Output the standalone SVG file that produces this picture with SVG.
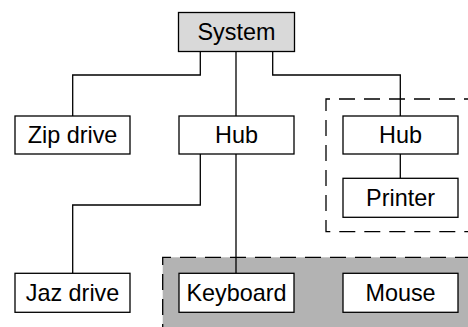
<svg xmlns="http://www.w3.org/2000/svg" width="468" height="327" viewBox="0 0 468 327">
<style>
.node rect{fill:#fff;stroke:#000;stroke-width:1.3}
.node text{font-family:"Liberation Sans",Arial,sans-serif;font-size:23.4px;text-anchor:middle;fill:#000}
.grp{stroke:#000;stroke-width:1.3;stroke-dasharray:16 9}
#connectors path{fill:none;stroke:#000;stroke-width:1.3}
</style>
<rect width="468" height="327" fill="#fff"/>
<g id="group-usb">
<rect x="162.7" y="257.3" width="320" height="90" fill="#b3b3b3" stroke="none"/>
<path class="grp" d="M162.7,340 V257.3 H480" fill="none"/>
</g>
<g id="group-hub2">
<path class="grp" d="M480,99 H326 V231.7 H480" fill="none"/>
</g>
<g id="connectors">
<path d="M200.3,51.7 V75 H72.7 V116"/>
<path d="M236,51.7 V116"/>
<path d="M272.7,51.7 V75 H400.3 V116"/>
<path d="M200.3,154 V205 H72.7 V273.3"/>
<path d="M236,154 V273.3"/>
<path d="M400.3,154 V178.3"/>
</g>
<g id="system" class="node"><rect x="178.5" y="12.5" width="116" height="39" style="fill:#d9d9d9"/><text x="236.5" y="40">System</text></g>
<g id="zip" class="node"><rect x="15" y="116" width="115" height="38"/><text x="72.5" y="143">Zip drive</text></g>
<g id="hub1" class="node"><rect x="179" y="116" width="115" height="38"/><text x="236.5" y="143">Hub</text></g>
<g id="hub2" class="node"><rect x="343" y="116" width="115" height="38"/><text x="400.5" y="143">Hub</text></g>
<g id="printer" class="node"><rect x="343" y="178.3" width="115" height="39"/><text x="400.5" y="206">Printer</text></g>
<g id="jaz" class="node"><rect x="15" y="273.3" width="115" height="39"/><text x="72.5" y="301">Jaz drive</text></g>
<g id="keyboard" class="node"><rect x="179" y="273.3" width="115" height="39"/><text x="236.5" y="301">Keyboard</text></g>
<g id="mouse" class="node"><rect x="343" y="273.3" width="115" height="39"/><text x="400.5" y="301">Mouse</text></g>
</svg>
